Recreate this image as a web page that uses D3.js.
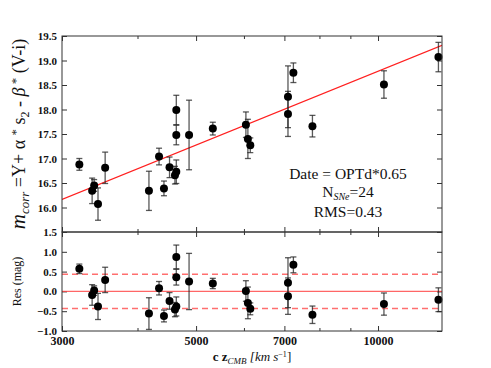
<!DOCTYPE html>
<html>
<head>
<meta charset="utf-8">
<script src="https://cdn.jsdelivr.net/npm/d3@7"></script>
<style>
  body { margin: 0; background: #fff; }
  svg { display: block; }
  .tick text { font-family: "Liberation Serif", serif; font-weight: bold; fill: #111; }
</style>
</head>
<body>
<svg id="chart" width="491" height="368"></svg>
<script>
// c z_CMB in km/s
const czCMB = [3205, 3365, 3391, 3441, 3536, 4178, 4342, 4424, 4519, 4613, 4637, 4637,
               4637, 4868, 5329, 6045, 6091, 6147, 7096, 7096, 7244, 7789, 10228, 12588];
// corrected magnitudes
const mCorr = [16.88, 16.34, 16.45, 16.07, 16.81, 16.34, 17.04, 16.39, 16.82, 16.66, 16.73, 17.48,
               17.99, 17.48, 17.61, 17.69, 17.40, 17.27, 18.26, 17.91, 18.75, 17.66, 18.51, 19.07];
const mErr = [0.12, 0.26, 0.12, 0.33, 0.32, 0.40, 0.17, 0.15, 0.21, 0.18, 0.24, 0.20,
              0.30, 0.71, 0.13, 0.26, 0.40, 0.15, 0.63, 0.46, 0.20, 0.22, 0.28, 0.30];
// residuals from the Hubble fit
const residuals = [0.57, -0.09, 0.02, -0.38, 0.29, -0.56, 0.08, -0.62, -0.24, -0.46, -0.38, 0.36,
                   0.87, 0.25, 0.20, 0.01, -0.29, -0.44, 0.22, -0.12, 0.67, -0.59, -0.32, -0.21];

const fitSlope = 5;
const fitIntercept = -1.22;
const rms = 0.43;

const xMajorTicks = [3000, 5000, 7000, 10000];
const xMinorTicks = [4000, 6000, 8000, 9000];
const topYTicks = [16.0, 16.5, 17.0, 17.5, 18.0, 18.5, 19.0, 19.5];
const resYTicks = [-1.0, -0.5, 0.0, 0.5, 1.0, 1.5];

const svg = d3.select('#chart');
const frame = { left: 62, right: 442, top: 36, mid: 232, bottom: 331 };
const frameColor = '#333';

const x = d3.scaleLog().domain([3000, 12760]).range([frame.left, frame.right]);
const yTop = d3.scaleLinear().domain([15.5, 19.5]).range([frame.mid, frame.top]);
const yRes = d3.scaleLinear().domain([-1.0, 1.5]).range([frame.bottom, frame.mid]);

const points = czCMB.map((cz, i) => ({ cz, m: mCorr[i], e: mErr[i], r: residuals[i] }));

function styleAxis(g) {
    g.select('.domain').remove();
    g.selectAll('.tick line').attr('stroke', frameColor).attr('stroke-width', 1);
}

// x ticks, pointing inward on every horizontal edge
function xTicks(yPos, dir, labels) {
    const make = () => (dir === 'down' ? d3.axisTop(x) : d3.axisBottom(x));
    svg.append('g').attr('transform', `translate(0,${yPos})`)
        .call(make().tickValues(xMajorTicks).tickSize(-5).tickPadding(5)
            .tickFormat(labels ? d3.format('d') : ''))
        .call(styleAxis)
        .selectAll('text').style('font-size', '12px');
    svg.append('g').attr('transform', `translate(0,${yPos})`)
        .call(make().tickValues(xMinorTicks).tickSize(-3).tickFormat(''))
        .call(styleAxis);
}
xTicks(frame.top, 'down', false);
xTicks(frame.mid, 'up', false);
xTicks(frame.mid, 'down', false);
xTicks(frame.bottom, 'up', true);

// y ticks
svg.append('g').attr('transform', `translate(${frame.left},0)`)
    .call(d3.axisLeft(yTop).tickValues(topYTicks).tickSize(-5).tickPadding(5).tickFormat(d3.format('.1f')))
    .call(styleAxis).selectAll('text').style('font-size', '11px');
svg.append('g').attr('transform', `translate(${frame.right},0)`)
    .call(d3.axisRight(yTop).tickValues(topYTicks).tickSize(-5).tickFormat(''))
    .call(styleAxis);
svg.append('g').attr('transform', `translate(${frame.left},0)`)
    .call(d3.axisLeft(yRes).tickValues(resYTicks).tickSize(-5).tickPadding(5).tickFormat(d3.format('.1f')))
    .call(styleAxis).selectAll('text').style('font-size', '11px');
svg.append('g').attr('transform', `translate(${frame.right},0)`)
    .call(d3.axisRight(yRes).tickValues(resYTicks).tickSize(-5).tickFormat(''))
    .call(styleAxis);

// fit line (top)
const fit = cz => fitSlope * Math.log10(cz) + fitIntercept;
svg.append('clipPath').attr('id', 'clipTop')
    .append('rect').attr('x', frame.left).attr('y', frame.top)
    .attr('width', frame.right - frame.left).attr('height', frame.mid - frame.top);
const [x0, x1] = x.domain();
svg.append('line')
    .attr('clip-path', 'url(#clipTop)')
    .attr('x1', x(x0)).attr('y1', yTop(fit(x0)))
    .attr('x2', x(x1)).attr('y2', yTop(fit(x1)))
    .attr('stroke', '#ff2020').attr('stroke-width', 1.2);

// residual reference lines
svg.append('line')
    .attr('x1', frame.left).attr('x2', frame.right).attr('y1', yRes(0)).attr('y2', yRes(0))
    .attr('stroke', '#ff4040').attr('stroke-width', 1.3).attr('opacity', 0.8);
[rms, -rms].forEach(v => {
    svg.append('line')
        .attr('x1', frame.left).attr('x2', frame.right).attr('y1', yRes(v)).attr('y2', yRes(v))
        .attr('stroke', '#ff4040').attr('stroke-width', 1.5).attr('opacity', 0.75)
        .attr('stroke-dasharray', '6,4');
});

// error bars + points
function drawPanel(yScale, val) {
    const g = svg.append('g');
    const eb = g.selectAll('.eb').data(points).enter().append('g')
        .attr('stroke', '#222').attr('stroke-opacity', 0.75).attr('stroke-width', 1.3);
    eb.append('line')
        .attr('x1', d => x(d.cz)).attr('x2', d => x(d.cz))
        .attr('y1', d => yScale(val(d) - d.e)).attr('y2', d => yScale(val(d) + d.e));
    [-1, 1].forEach(s => {
        eb.append('line')
            .attr('x1', d => x(d.cz) - 3).attr('x2', d => x(d.cz) + 3)
            .attr('y1', d => yScale(val(d) + s * d.e)).attr('y2', d => yScale(val(d) + s * d.e));
    });
    g.selectAll('.pt').data(points).enter().append('circle')
        .attr('cx', d => x(d.cz)).attr('cy', d => yScale(val(d)))
        .attr('r', 4).attr('fill', '#000');
}
drawPanel(yTop, d => d.m);
drawPanel(yRes, d => d.r);

// frames
svg.append('rect').attr('x', frame.left).attr('y', frame.top)
    .attr('width', frame.right - frame.left).attr('height', frame.mid - frame.top)
    .attr('fill', 'none').attr('stroke', frameColor).attr('stroke-width', 1);
svg.append('rect').attr('x', frame.left).attr('y', frame.mid)
    .attr('width', frame.right - frame.left).attr('height', frame.bottom - frame.mid)
    .attr('fill', 'none').attr('stroke', frameColor).attr('stroke-width', 1);

// annotation
const ann = svg.append('text').attr('text-anchor', 'middle')
    .style('font-family', '"Liberation Serif", serif').style('font-size', '15.5px').attr('fill', '#111');
ann.append('tspan').attr('x', 348).attr('y', 179).text('Date = OPTd*0.65');
const n = ann.append('tspan').attr('x', 348).attr('y', 197);
n.append('tspan').text('N');
n.append('tspan').attr('dy', 3).style('font-size', '10px').style('font-style', 'italic').text('SNe');
n.append('tspan').attr('dy', -3).text('=24');
ann.append('tspan').attr('x', 348).attr('y', 217).text('RMS=0.43');

// axis labels
const yl = svg.append('text')
    .attr('transform', `translate(25,${(frame.top + frame.mid) / 2}) rotate(-90)`)
    .attr('text-anchor', 'middle')
    .style('font-family', '"Liberation Serif", serif').style('font-size', '18px').attr('fill', '#111');
yl.append('tspan').style('font-style', 'italic').style('font-size', '21px').text('m');
yl.append('tspan').style('font-style', 'italic').style('font-size', '13px').attr('dy', 4).text('corr');
yl.append('tspan').attr('dy', -4).text(' =Y+ α ');
yl.append('tspan').attr('dy', -5).style('font-size', '13px').text('*');
yl.append('tspan').attr('dy', 5).text(' s');
yl.append('tspan').attr('dy', 4).style('font-size', '12px').text('2');
yl.append('tspan').attr('dy', -4).text(' - ');
yl.append('tspan').style('font-style', 'italic').text('β');
yl.append('tspan').attr('dy', -5).style('font-size', '13px').text(' *');
yl.append('tspan').attr('dy', 5).text(' (V-i)');

svg.append('text')
    .attr('transform', `translate(21,${(frame.mid + frame.bottom) / 2}) rotate(-90)`)
    .attr('text-anchor', 'middle')
    .style('font-family', '"Liberation Serif", serif').style('font-size', '12px').attr('fill', '#111')
    .text('Res (mag)');

const xl = svg.append('text').attr('x', (frame.left + frame.right) / 2).attr('y', 361)
    .attr('text-anchor', 'middle')
    .style('font-family', '"Liberation Serif", serif').style('font-size', '13px').attr('fill', '#111');
xl.append('tspan').style('font-weight', 'bold').text('c z');
xl.append('tspan').attr('dy', 3).style('font-style', 'italic').style('font-size', '9px').text('CMB');
xl.append('tspan').attr('dy', -3).style('font-style', 'italic').text(' [km s');
xl.append('tspan').attr('dy', -4).style('font-size', '8px').text('−1');
xl.append('tspan').attr('dy', 4).text(']');
</script>
</body>
</html>
